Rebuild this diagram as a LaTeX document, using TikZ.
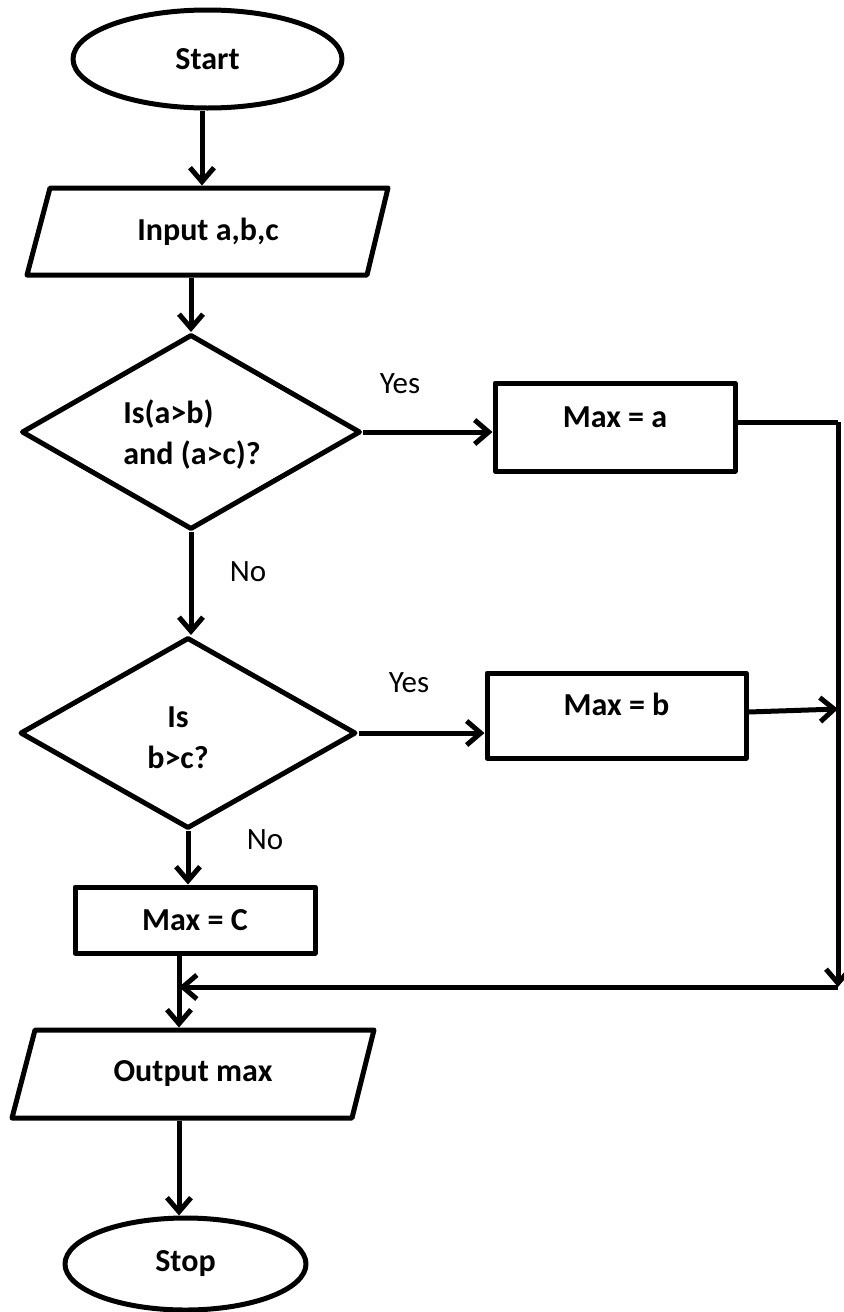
\documentclass[tikz,border=0pt]{standalone}
\usepackage{fontspec}
\setmainfont{Carlito}
\usetikzlibrary{shapes.geometric,arrows.meta,calc}
\begin{document}
\begin{tikzpicture}[x=0.5pt,y=-0.5pt,
  line width=2.5pt, line join=round,
  every node/.style={font=\fontsize{16}{20.5}\selectfont\bfseries, inner sep=0pt},
  conn/.style={-{Straight Barb[length=7pt,width=12pt]}, line width=2.5pt},
  term/.style={draw, ellipse},
  procbox/.style={draw, rectangle},
  decision/.style={draw, diamond, aspect=1.7},
  lbl/.style={font=\fontsize{15.5}{18}\selectfont}]
\useasboundingbox (0,0) rectangle (843,1312);

% shapes
\node[term, minimum width=134.5pt, minimum height=49pt] (start) at (207.5,59) {Start};

\draw (50,188) -- (388,188) -- (367,275) -- (27,275) -- cycle;
\node[minimum width=150pt, minimum height=43.5pt] (in) at (208,231.5) {Input a,b,c};

\node[decision, minimum width=169.5pt, minimum height=97.5pt] (d1) at (191,432) {};
\node[align=left] (d1t) at (192,435) {Is(a>b)\\and (a>c)?};

\node[procbox, minimum width=120pt, minimum height=44pt, text height=10pt, text depth=10pt] (ma) at (615,427) {Max = a};

\node[decision, minimum width=168pt, minimum height=95.5pt] (d2) at (188,733) {};
\node[align=center] (d2t) at (178,737.5) {Is\\b>c?};

\node[procbox, minimum width=129.5pt, minimum height=42.5pt, text height=10pt, text depth=10pt] (mb) at (616.5,715.5) {Max = b};

\node[procbox, minimum width=120pt, minimum height=33pt] (mc) at (195,920) {Max = C};

\draw (35,1030) -- (374,1030) -- (352,1118) -- (12,1118) -- cycle;
\node[minimum width=150pt, minimum height=44pt] (out) at (193,1074) {Output max};

\node[term, minimum width=120.5pt, minimum height=46pt] (stop) at (185.5,1264) {Stop};

% labels
\node[lbl] (y1) at (400,384) {Yes};
\node[lbl] (n1) at (248,572) {No};
\node[lbl] (y2) at (409,683) {Yes};
\node[lbl] (n2) at (265,840) {No};

% helper coordinates
\coordinate (rt) at (838,422);
\coordinate (rc) at (838,987);
\coordinate (rb) at (838,709);
\coordinate (j) at (179,987);

% connectors
\draw[conn] ([xshift=-2.75pt]start.south) -- ([xshift=-2.75pt]start.south |- in.north);
\draw[conn] (in.south -| d1.north) -- (d1.north);
\draw[conn] (d1.east) -- (d1.east -| ma.west);
\draw[conn] (d1.south) -- (d1.south |- d2.north);
\draw[conn] (d2.east) -- (d2.east -| mb.west);
\draw[conn] (d2.south) -- (d2.south |- mc.north);
\draw ([yshift=2.5pt]ma.east) -- (rt);
\draw[conn] (rt) -- (rc);
\draw[conn] ([yshift=1.75pt]mb.east) -- (rb);
\draw (mc.south -| j) -- (j);
\draw[conn] (rc) -- (j);
\draw[conn] (j) -- (j |- out.north);
\draw[conn] (j |- out.south) -- (j |- stop.north);
\end{tikzpicture}
\end{document}
